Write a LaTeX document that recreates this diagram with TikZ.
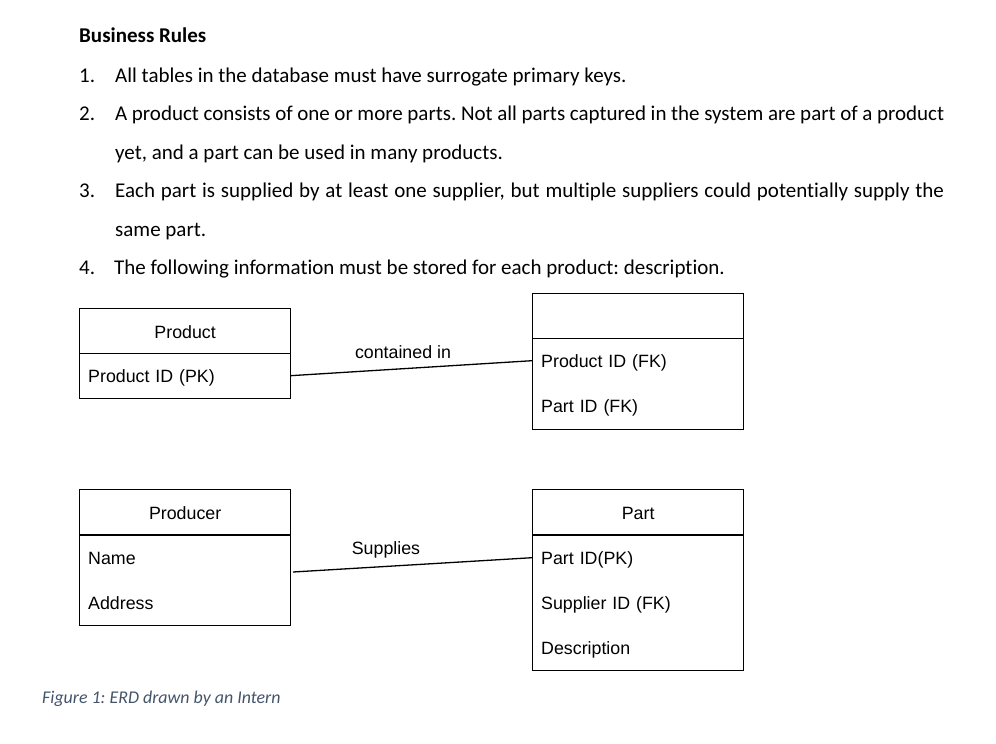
\documentclass[tikz,border=0pt]{standalone}
\usepackage{fontspec}
\setmainfont{Carlito}[Ligatures={NoCommon}]
\newfontfamily\arial{Liberation Sans}
\definecolor{capblue}{HTML}{44546A}
\frenchspacing
\begin{document}
\begin{tikzpicture}[x=1pt,y=-1pt,
  txt/.style={anchor=base west,inner sep=0pt,font=\fontsize{21}{24}\selectfont},
  hdr/.style={draw,line width=1.3pt,minimum width=211pt,minimum height=45pt,anchor=north west,inner sep=0pt,text height=14.5pt,text depth=0pt,font=\arial\fontsize{17.8}{20}\selectfont},
  body/.style={draw,line width=1.3pt,minimum width=211pt,anchor=north west,inner sep=0pt},
  row/.style={minimum width=211pt,minimum height=45pt,text width=193pt,align=left,inner xsep=9pt,inner ysep=0pt,anchor=north west,text height=14.5pt,text depth=0pt,font=\arial\fontsize{17.8}{20}\selectfont},
  conn/.style={line width=1.3pt},
  lbl/.style={inner sep=0pt,font=\arial\fontsize{17.8}{20}\selectfont}]
\useasboundingbox (0,0) rectangle (996,744);
% Business rules
\node[txt,font=\bfseries\fontsize{21}{24}\selectfont] (title) at (79,42) {Business Rules};
\node[txt] (n1) at (79,82) {1.};
\node[txt] (r1) at (115,82) {All tables in the database must have surrogate primary keys.};
\node[txt] (n2) at (79,120) {2.};
\node[txt] (r2a) at (115,120) {\makebox[829pt][s]{A product consists of one or more parts. Not all parts captured in the system are part of a product}};
\node[txt] (r2b) at (115,159) {yet, and a part can be used in many products.};
\node[txt] (n3) at (79,197) {3.};
\node[txt] (r3a) at (115,197) {\makebox[829pt][s]{Each part is supplied by at least one supplier, but multiple suppliers could potentially supply the}};
\node[txt] (r3b) at (115,236) {same part.};
\node[txt] (n4) at (79,274) {4.};
\node[txt] (r4) at (114,274) {The following information must be stored for each product: description.};
% Product
\node[hdr] (producth) at (79,308) {Product};
\node[body,minimum height=45pt] (productb) at (79,353) {};
\node[row] (prodpk) at (79,353) {Product ID (PK)};
% Junction
\node[hdr] (junch) at (532,293) {};
\node[body,minimum height=91pt] (juncb) at (532,338) {};
\node[row] (jprod) at (532,338) {Product ID (FK)};
\node[row] (jpart) at (532,383) {Part ID (FK)};
% Producer
\node[hdr] (producerh) at (79,489) {Producer};
\node[body,minimum height=90pt] (producerb) at (79,535) {};
\node[row] (pname) at (79,535) {Name};
\node[row] (paddr) at (79,580) {Address};
% Part
\node[hdr] (parth) at (532,489) {Part};
\node[body,minimum height=135pt] (partb) at (532,535) {};
\node[row] (partpk) at (532,535) {Part ID(PK)};
\node[row] (partsup) at (532,580) {Supplier ID (FK)};
\node[row] (partdesc) at (532,625) {Description};
% connectors
\draw[conn] (prodpk.east) -- (jprod.west);
\node[lbl] (lcont) at (403,352) {contained in};
\coordinate (supstart) at (293,572);
\draw[conn] (supstart) -- (partpk.west);
\node[lbl] (lsup) at (386,550) {Supplies};
% caption
\node[anchor=base west,inner sep=0pt,text=capblue,font=\itshape\fontsize{17.9}{20}\selectfont] (cap) at (42,703) {Figure 1: ERD drawn by an Intern};
\end{tikzpicture}
\end{document}
